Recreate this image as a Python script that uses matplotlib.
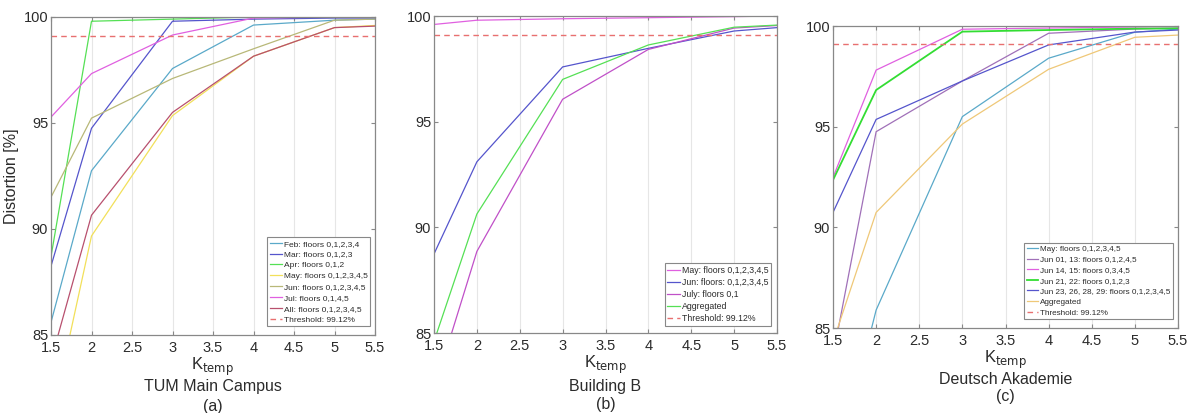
import matplotlib.pyplot as plt
import numpy as np

plt.rcParams['font.family'] = ['Liberation Sans', 'DejaVu Sans']

# ------------------ DATA ------------------

k_temp = [1.5, 2, 3, 4, 5, 5.5]
threshold = 99.12

# (a) TUM Main Campus
tum_labels = ["Feb: floors 0,1,2,3,4", "Mar: floors 0,1,2,3", "Apr: floors 0,1,2",
              "May: floors 0,1,2,3,4,5", "Jun: floors 0,1,2,3,4,5", "Jul: floors 0,1,4,5",
              "All: floors 0,1,2,3,4,5"]
tum_feb = [85.6, 92.75, 97.57, 99.62, 99.85, 99.9]
tum_mar = [88.25, 94.75, 99.8, 99.9, 99.95, 99.95]
tum_apr = [88.7, 99.8, 99.9, 100.0, 100.0, 100.0]
tum_may = [80.9, 89.67, 95.35, 98.15, 99.5, 99.6]
tum_jun = [91.5, 95.23, 97.1, 98.5, 99.85, 99.9]
tum_jul = [95.28, 97.33, 99.15, 99.95, 100.0, 100.0]
tum_all = [83.8, 90.65, 95.5, 98.15, 99.5, 99.57]

# (b) Building B
bb_labels = ["May: floors 0,1,2,3,4,5", "Jun: floors: 0,1,2,3,4,5", "July: floors 0,1", "Aggregated"]
bb_may = [99.6, 99.8, 99.87, 99.92, 99.97, 100.0]
bb_jun = [88.74, 93.1, 97.59, 98.47, 99.29, 99.45]
bb_jul = [82.3, 88.86, 96.06, 98.42, 99.43, 99.55]
bb_agg = [84.6, 90.63, 97.0, 98.63, 99.47, 99.57]

# (c) Deutsch Akademie
da_labels = ["May: floors 0,1,2,3,4,5", "Jun 01, 13: floors 0,1,2,4,5", "Jun 14, 15: floors 0,3,4,5",
             "Jun 21, 22: floors 0,1,2,3", "Jun 23, 26, 28, 29: floors 0,1,2,3,4,5", "Aggregated"]
da_may = [77.4, 85.89, 95.5, 98.4, 99.69, 99.85]
da_jun0113 = [83.6, 94.75, 97.27, 99.64, 99.85, 99.9]
da_jun1415 = [92.48, 97.81, 99.84, 99.9, 99.95, 99.98]
da_jun2122 = [92.35, 96.82, 99.72, 99.8, 99.87, 99.88]
da_jun2329 = [90.74, 95.36, 97.27, 99.06, 99.7, 99.8]
da_agg = [84.3, 90.74, 95.13, 97.85, 99.44, 99.55]

# ------------------ STYLE ------------------

TEAL = "#5aa9c9"
BLUE = "#5555cc"
GREEN = "#55e055"
YELLOW = "#f2e05a"
OLIVE = "#b8b878"
MAGENTA = "#e060e0"
MAROON = "#b8506e"
PURPLE = "#a070b8"
ORANGE = "#efc878"
THRESH = "#e87070"
TEXT = "#2b2b2b"

W, H = 1191, 413


def style_axes(ax):
    ax.set_xlim(1.5, 5.5)
    ax.set_ylim(85, 100)
    ax.set_xticks(np.arange(1.5, 5.6, 0.5))
    ax.set_xticklabels(["1.5", "2", "2.5", "3", "3.5", "4", "4.5", "5", "5.5"])
    ax.set_yticks([85, 90, 95, 100])
    ax.grid(True, axis="x", color="#e6e6e6", linewidth=0.8)
    ax.set_axisbelow(True)
    for s in ax.spines.values():
        s.set_color("#888888")
        s.set_linewidth(0.9)
    ax.tick_params(direction="in", length=3, color="#888888", labelsize=10.5,
                   labelcolor=TEXT, top=True, right=True, pad=2)
    ax.tick_params(axis="x", pad=4)


def draw(ax, series, labels, colors, widths, title, letter, leg_fs, title_y, letter_y, gaps):
    for ys, lab, c, w in zip(series, labels, colors, widths):
        ax.plot(k_temp, ys, color=c, linewidth=w, label=lab)
    ax.axhline(threshold, color=THRESH, linestyle=(0, (4, 3)), linewidth=1.0,
               label="Threshold: 99.12%")
    style_axes(ax)
    ax.set_xlabel(r"K$_{\mathrm{temp}}$", fontsize=12, color=TEXT, labelpad=1)

    # caption lines under each panel
    bb = ax.get_position()
    xc = (bb.x0 + bb.x1) / 2
    fig.text(xc, 1 - title_y / H, title, ha="center", va="center", fontsize=11.5, color=TEXT)
    fig.text(xc, 1 - letter_y / H, letter, ha="center", va="center", fontsize=11.5, color=TEXT)

    # legend placed with pixel gaps from the right / bottom axis edges
    ax_w = bb.width * W
    ax_h = bb.height * H
    anchor = (1 - gaps[0] / ax_w, gaps[1] / ax_h)
    leg = ax.legend(loc="lower right", bbox_to_anchor=anchor, borderaxespad=0,
                    fontsize=leg_fs, handlelength=1.4, handletextpad=0.25,
                    borderpad=0.3, labelspacing=0.36,
                    fancybox=False, framealpha=1.0)
    leg.get_frame().set_edgecolor("#888888")
    leg.get_frame().set_linewidth(0.8)
    for t in leg.get_texts():
        t.set_color(TEXT)


fig = plt.figure(figsize=(11.91, 4.13), dpi=100)

ax1 = fig.add_axes([51 / W, 1 - 335 / H, 324 / W, 318 / H])
ax2 = fig.add_axes([434 / W, 1 - 333 / H, 343 / W, 317 / H])
ax3 = fig.add_axes([833 / W, 1 - 328 / H, 345 / W, 302 / H])

draw(ax1, [tum_feb, tum_mar, tum_apr, tum_may, tum_jun, tum_jul, tum_all], tum_labels,
     [TEAL, BLUE, GREEN, YELLOW, OLIVE, MAGENTA, MAROON], [0.9] * 7,
     "TUM Main Campus", "(a)", 6.0, 387, 406, (5, 9))
ax1.set_ylabel("Distortion [%]", fontsize=11.5, color=TEXT)
ax1.yaxis.set_label_coords(-0.1, 0.5)

draw(ax2, [bb_may, bb_jun, bb_jul, bb_agg], bb_labels,
     [MAGENTA, BLUE, "#c050c8", GREEN], [0.9] * 4,
     "Building B", "(b)", 6.3, 386, 405, (6, 7))

draw(ax3, [da_may, da_jun0113, da_jun1415, da_jun2122, da_jun2329, da_agg], da_labels,
     [TEAL, PURPLE, MAGENTA, "#33dd33", BLUE, ORANGE], [0.9, 0.9, 0.9, 1.3, 0.9, 0.9],
     "Deutsch Akademie", "(c)", 5.85, 379, 397, (5, 9))

fig.savefig("out.png", dpi=100)
plt.close(fig)
